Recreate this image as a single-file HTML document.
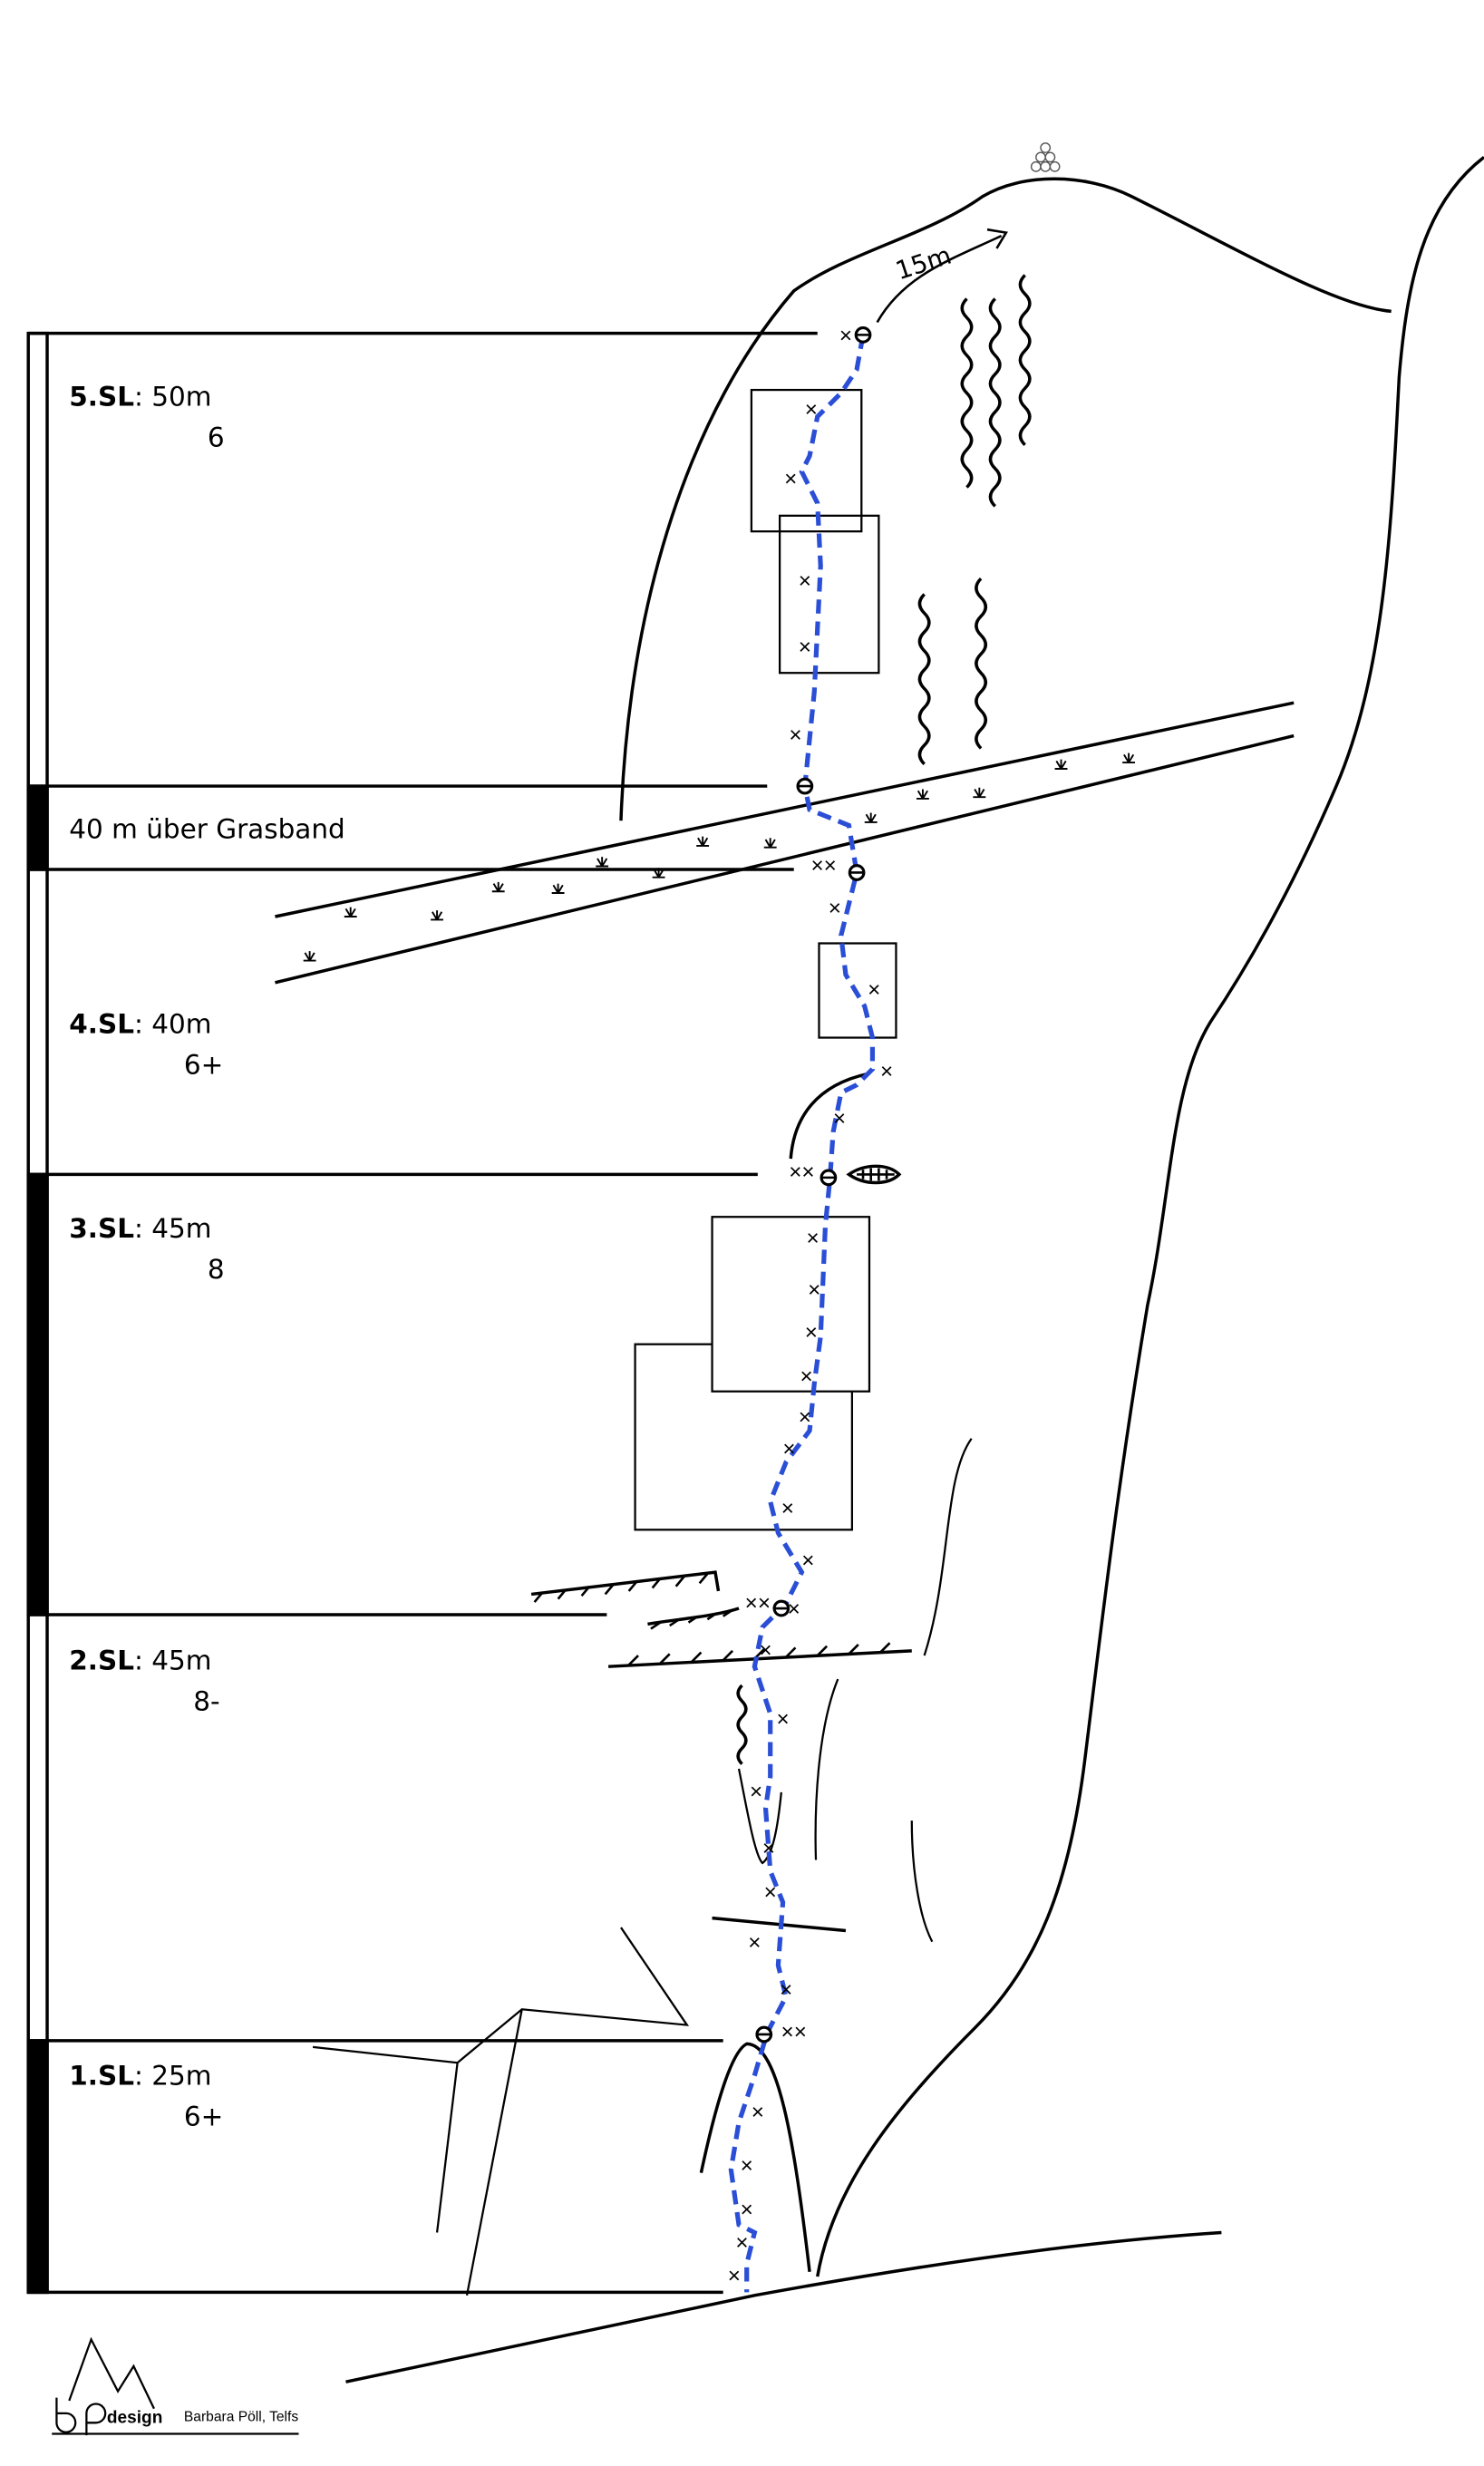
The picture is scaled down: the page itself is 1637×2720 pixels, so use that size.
<!DOCTYPE html><html><head><meta charset="utf-8"><style>html,body{margin:0;padding:0;background:#fff}svg{display:block}</style></head><body>
<svg width="1637" height="2720" viewBox="0 0 944 1568.5" preserveAspectRatio="none" xmlns="http://www.w3.org/2000/svg" font-family="DejaVu Sans, sans-serif">
<g fill="none" stroke="#000" stroke-width="2">
<rect x="18" y="212" width="12" height="1246" fill="#fff"/>
<rect x="18" y="500" width="12" height="53" fill="#000"/>
<rect x="18" y="747" width="12" height="280" fill="#000"/>
<rect x="18" y="1298" width="12" height="160" fill="#000"/>
<line x1="18" y1="212" x2="520" y2="212"/>
<line x1="18" y1="500" x2="488" y2="500"/>
<line x1="18" y1="553" x2="505" y2="553"/>
<line x1="18" y1="747" x2="482" y2="747"/>
<line x1="18" y1="1027" x2="386" y2="1027"/>
<line x1="18" y1="1298" x2="460" y2="1298"/>
<line x1="18" y1="1458" x2="460" y2="1458"/>
<path d="M395,522 C400,380 440,260 505,185 C540,160 590,150 625,125 C650,110 690,110 720,125 C790,160 850,195 885,198"/>
<path d="M944,100 C905,130 895,180 890,240 C885,340 880,430 850,500 C820,570 790,620 770,650 C745,690 745,760 730,830 C710,950 700,1040 690,1120 C680,1200 660,1250 620,1290 C570,1340 530,1390 520,1448"/>
<path d="M220,1515 L480,1460 C600,1438 700,1425 777,1420"/>
<line x1="175" y1="583" x2="823" y2="447"/>
<line x1="175" y1="625" x2="823" y2="468"/>
<g stroke-width="1.3">
<rect x="478" y="248" width="70" height="90"/>
<rect x="496" y="328" width="63" height="100"/>
<rect x="521" y="600" width="49" height="60"/>
<rect x="404" y="855" width="138" height="118"/>
<rect x="453" y="774" width="100" height="111" fill="#fff"/>
</g>
<g stroke-width="2">
<path d="M615,190 q-6,6 0,12 q6,6 0,12 q-6,6 0,12 q6,6 0,12 q-6,6 0,12 q6,6 0,12 q-6,6 0,12 q6,6 0,12 q-6,6 0,12 q6,6 0,12"/>
<path d="M633,190 q-6,6 0,12 q6,6 0,12 q-6,6 0,12 q6,6 0,12 q-6,6 0,12 q6,6 0,12 q-6,6 0,12 q6,6 0,12 q-6,6 0,12 q6,6 0,12 q-6,6 0,12"/>
<path d="M652,175 q-6,6 0,12 q6,6 0,12 q-6,6 0,12 q6,6 0,12 q-6,6 0,12 q6,6 0,12 q-6,6 0,12 q6,6 0,12 q-6,6 0,12"/>
<path d="M588,378 q-6,6 0,12 q6,6 0,12 q-6,6 0,12 q6,6 0,12 q-6,6 0,12 q6,6 0,12 q-6,6 0,12 q6,6 0,12 q-6,6 0,12"/>
<path d="M624,368 q-6,6 0,12 q6,6 0,12 q-6,6 0,12 q6,6 0,12 q-6,6 0,12 q6,6 0,12 q-6,6 0,12 q6,6 0,12 q-6,6 0,12"/>
<path d="M472,1072 q-5,5 0,10 q5,5 0,10 q-5,5 0,10 q5,5 0,10 q-5,5 0,10"/>
</g>
<path d="M558,205 C575,175 605,165 637,150" stroke-width="1.5"/>
<path d="M628,146 L640,148 L634,158" stroke-width="1.5"/>
<path d="M503,737 C505,710 520,690 552,683" stroke-width="2"/>
<path d="M540,747 C550,740 565,740 572,747 C565,754 550,754 540,747Z" stroke-width="2"/>
<path d="M338,1014 L455,1000 L457,1012" stroke-width="2"/>
<path d="M412,1033 C430,1030 455,1028 470,1023" stroke-width="2"/>
<line x1="387" y1="1060" x2="580" y2="1050" stroke-width="2"/>
<path d="M618,915 C600,940 605,1000 588,1053" stroke-width="1.3"/>
<path d="M533,1068 C520,1100 518,1150 519,1183" stroke-width="1.3"/>
<path d="M470,1125 C475,1150 480,1180 485,1185 C492,1180 495,1160 497,1140" stroke-width="1.3"/>
<path d="M580,1158 C580,1190 585,1220 593,1235" stroke-width="1.3"/>
<line x1="453" y1="1220" x2="538" y2="1228" stroke-width="2"/>
<path d="M395,1226 L437,1288 L332,1278 L291,1312 L199,1302" stroke-width="1.3"/>
<path d="M332,1278 L297,1460" stroke-width="1.3"/>
<path d="M291,1312 L278,1420" stroke-width="1.3"/>
<path d="M446,1382 C455,1340 465,1305 475,1300 C495,1300 505,1360 515,1445" stroke-width="2"/>
</g>
<g stroke="#000" stroke-width="1.5">
<path d="M345,1013 l-5,6 M360,1011 l-5,6 M375,1009 l-5,6 M390,1008 l-5,6 M405,1006 l-5,6 M420,1004 l-5,6 M435,1003 l-5,6 M450,1001 l-5,6"/>
<path d="M420,1032 l-6,4 M432,1030 l-6,4 M444,1028 l-6,4 M456,1026 l-6,4 M466,1024 l-6,4"/>
<path d="M400,1059 l6,-6 M420,1058 l6,-6 M440,1057 l6,-6 M460,1056 l6,-6 M480,1055 l6,-6 M500,1054 l6,-6 M520,1053 l6,-6 M540,1052 l6,-6 M560,1051 l6,-6"/>
<path d="M545,747 h24 M549,744 v6 M554,743 v8 M559,743 v8 M564,744 v6"/>
</g>
<g stroke="#000" stroke-width="1.1" fill="none">
<path d="M193,611 h8 M197,611 l-3,-5 M197,611 l0,-6 M197,611 l3,-5"/>
<path d="M219,583 h8 M223,583 l-3,-5 M223,583 l0,-6 M223,583 l3,-5"/>
<path d="M274,585 h8 M278,585 l-3,-5 M278,585 l0,-6 M278,585 l3,-5"/>
<path d="M313,567 h8 M317,567 l-3,-5 M317,567 l0,-6 M317,567 l3,-5"/>
<path d="M351,568 h8 M355,568 l-3,-5 M355,568 l0,-6 M355,568 l3,-5"/>
<path d="M379,551 h8 M383,551 l-3,-5 M383,551 l0,-6 M383,551 l3,-5"/>
<path d="M415,558 h8 M419,558 l-3,-5 M419,558 l0,-6 M419,558 l3,-5"/>
<path d="M443,538 h8 M447,538 l-3,-5 M447,538 l0,-6 M447,538 l3,-5"/>
<path d="M486,539 h8 M490,539 l-3,-5 M490,539 l0,-6 M490,539 l3,-5"/>
<path d="M550,523 h8 M554,523 l-3,-5 M554,523 l0,-6 M554,523 l3,-5"/>
<path d="M583,508 h8 M587,508 l-3,-5 M587,508 l0,-6 M587,508 l3,-5"/>
<path d="M619,507 h8 M623,507 l-3,-5 M623,507 l0,-6 M623,507 l3,-5"/>
<path d="M671,489 h8 M675,489 l-3,-5 M675,489 l0,-6 M675,489 l3,-5"/>
<path d="M714,485 h8 M718,485 l-3,-5 M718,485 l0,-6 M718,485 l3,-5"/>
</g>
<path d="M549,213 L545,235 L535,250 L520,265 L515,290 L510,300 L520,320 L522,360 L520,400 L518,440 L515,470 L512,500 L515,515 L540,525 L545,555 L540,575 L535,595 L538,620 L550,640 L555,660 L555,680 L545,690 L535,695 L530,720 L528,749 L525,780 L522,850 L518,880 L515,910 L500,930 L490,955 L495,975 L510,1000 L500,1020 L485,1035 L480,1060 L490,1090 L490,1130 L487,1150 L490,1190 L498,1210 L495,1250 L500,1270 L488,1293 L480,1320 L470,1350 L465,1380 L470,1415 L480,1420 L475,1440 L475,1458" fill="none" stroke="#2a4fd6" stroke-width="3" stroke-dasharray="9,5"/>
<g fill="#fff" stroke="#000" stroke-width="1.8">
<circle cx="549" cy="213" r="4.5"/><circle cx="512" cy="500" r="4.5"/><circle cx="545" cy="555" r="4.5"/><circle cx="527" cy="749" r="4.5"/><circle cx="497" cy="1023" r="4.5"/><circle cx="486" cy="1294" r="4.5"/>
</g>
<g stroke="#000" stroke-width="1.5"><path d="M545,213h8 M508,500h8 M541,555h8 M523,749h8 M493,1023h8 M482,1294h8"/></g>
<g font-size="14" text-anchor="middle" fill="#000" font-family="Liberation Sans, sans-serif">
<text x="538" y="218">×</text><text x="516" y="265">×</text><text x="503" y="309">×</text><text x="512" y="374">×</text><text x="512" y="416">×</text><text x="506" y="472">×</text>
<text x="524" y="555">××</text><text x="531" y="582">×</text><text x="556" y="634">×</text><text x="564" y="686">×</text><text x="534" y="716">×</text><text x="510" y="750">××</text>
<text x="517" y="792">×</text><text x="518" y="825">×</text><text x="516" y="852">×</text><text x="513" y="880">×</text><text x="512" y="906">×</text><text x="502" y="926">×</text><text x="501" y="964">×</text><text x="514" y="997">×</text><text x="505" y="1028">×</text><text x="482" y="1024">××</text>
<text x="487" y="1054">×</text><text x="498" y="1098">×</text><text x="481" y="1144">×</text><text x="489" y="1180">×</text><text x="490" y="1208">×</text><text x="480" y="1240">×</text><text x="500" y="1270">×</text><text x="505" y="1297">××</text>
<text x="482" y="1348">×</text><text x="475" y="1382">×</text><text x="475" y="1410">×</text><text x="472" y="1431">×</text><text x="467" y="1452">×</text>
</g>
<g fill="#fff" stroke="#555" stroke-width="0.8">
<circle cx="665" cy="94" r="3"/><circle cx="662" cy="100" r="3"/><circle cx="668" cy="100" r="3"/><circle cx="659" cy="106" r="3"/><circle cx="665" cy="106" r="3"/><circle cx="671" cy="106" r="3"/>
</g>
<text x="572" y="178" font-size="16" transform="rotate(-18 572 178)">15m</text>
<g font-size="17" fill="#000">
<text x="44" y="258"><tspan font-weight="bold">5.SL</tspan>: 50m</text><text x="132" y="284">6</text>
<text x="44" y="533">40 m  über Grasband</text>
<text x="44" y="657"><tspan font-weight="bold">4.SL</tspan>: 40m</text><text x="117" y="683">6+</text>
<text x="44" y="787"><tspan font-weight="bold">3.SL</tspan>: 45m</text><text x="132" y="813">8</text>
<text x="44" y="1062"><tspan font-weight="bold">2.SL</tspan>: 45m</text><text x="123" y="1088">8-</text>
<text x="44" y="1326"><tspan font-weight="bold">1.SL</tspan>: 25m</text><text x="117" y="1352">6+</text>
</g>
<g fill="none" stroke="#000" stroke-width="1.3">
<path d="M44,1527 L58,1488 L75,1521 L85,1505 L98,1532"/>
<path d="M36,1525 v16 a6,6 0 1 0 6,-6 h-6" />
<path d="M55,1549 v-14 a6,6 0 1 1 6,6 h-6"/>
<line x1="33" y1="1548" x2="190" y2="1548"/>
</g>
<text x="68" y="1541" font-size="11" font-weight="bold" font-family="Liberation Sans, sans-serif">design</text>
<text x="117" y="1540" font-size="9" font-family="Liberation Sans, sans-serif">Barbara Pöll, Telfs</text>
</svg>
</body></html>
